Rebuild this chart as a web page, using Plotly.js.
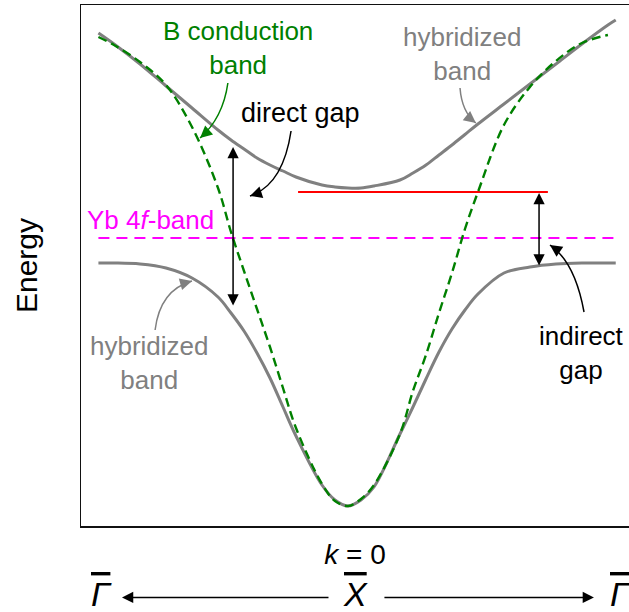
<!DOCTYPE html>
<html><head><meta charset="utf-8">
<script src="https://cdn.plot.ly/plotly-3.0.1.min.js"></script>
<style>html,body{margin:0;padding:0;background:#fff;overflow:hidden}#chart{width:629px;height:612px}</style>
</head><body><div id="chart"></div>
<script>
// momentum grid (k, arbitrary units, k = 0 at X-bar)
const kGrid = [-0.96, -0.9, -0.8, -0.7, -0.6, -0.5, -0.45, -0.4, -0.35, -0.3, -0.25, -0.2, -0.1, -0.05, 0, 0.05, 0.1, 0.2, 0.25, 0.3, 0.35, 0.4, 0.45, 0.5, 0.6, 0.7, 0.8, 0.9, 1.0, 1.03];
// upper hybridized band energy
const upperBandE = [2.05, 1.94, 1.74, 1.52, 1.30, 1.08, 0.98, 0.89, 0.80, 0.73, 0.67, 0.61, 0.53, 0.51, 0.50, 0.50, 0.52, 0.58, 0.65, 0.73, 0.83, 0.93, 1.035, 1.14, 1.34, 1.54, 1.74, 1.94, 2.13, 2.18];
// lower hybridized band energy
const lowerBandE = [-0.25, -0.25, -0.26, -0.30, -0.40, -0.59, -0.75, -0.93, -1.15, -1.40, -1.69, -1.98, -2.47, -2.62, -2.68, -2.62, -2.49, -1.96, -1.69, -1.41, -1.14, -0.91, -0.72, -0.56, -0.35, -0.29, -0.26, -0.25, -0.25, -0.25];
// unhybridized B conduction band
const conductionK = [-0.96, -0.9, -0.8, -0.7, -0.6, -0.5, -0.45, -0.4, -0.35, -0.3, -0.25, -0.2, -0.1, -0.05, 0, 0.05, 0.1, 0.2, 0.25, 0.3, 0.35, 0.4, 0.45, 0.5, 0.6, 0.7, 0.8, 0.9, 1.0];
const conductionE = [2.01, 1.93, 1.76, 1.53, 1.11, 0.50, 0.06, -0.33, -0.71, -1.09, -1.50, -1.90, -2.46, -2.63, -2.68, -2.61, -2.47, -1.96, -1.53, -1.17, -0.75, -0.35, 0.09, 0.46, 1.13, 1.51, 1.77, 1.95, 2.03];
// Yb 4f level
const fLevelK = [-0.96, 1.04];
const fLevelE = [0, 0];
// bottom of upper band (red reference line)
const refLevelK = [-0.192, 0.769];
const refLevelE = [0.46, 0.46];
// gaps
const directGapK = -0.442, directGapE = [0.91, -0.69];
const indirectGapK = 0.735, indirectGapE = [0.45, -0.29];

const FONT = 'Liberation Sans, Arial, sans-serif';
const GRAY = '#808080', GREEN = '#008000', MAGENTA = '#ff00ff';
const W = 629, H = 612, M = {l: 81, r: 0, t: 5, b: 86};
const xRange = [-1.027, 1.081], yRange = [-2.88, 2.33];
const pxPerK = (W - M.l - M.r) / (xRange[1] - xRange[0]);
const pxPerE = (H - M.t - M.b) / (yRange[1] - yRange[0]);

const traces = [
  {x: fLevelK, y: fLevelE, mode: 'lines', line: {color: MAGENTA, width: 2, dash: '11px,7px'}},
  {x: refLevelK, y: refLevelE, mode: 'lines', line: {color: '#ff0000', width: 2}},
  {x: kGrid, y: upperBandE, mode: 'lines', line: {color: GRAY, width: 3, shape: 'spline', smoothing: 1}},
  {x: kGrid, y: lowerBandE, mode: 'lines', line: {color: GRAY, width: 3, shape: 'spline', smoothing: 1}},
  {x: conductionK, y: conductionE, mode: 'lines', line: {color: GREEN, width: 2.4, dash: '9px,5px', shape: 'spline', smoothing: 1}}
];

// curved label arrows: tail, control, tip in (k, E)
const curvedArrows = [
  {tail: [-0.462, 1.55], ctrl: [-0.481, 1.20], tip: [-0.569, 1.00], color: GREEN},
  {tail: [-0.219, 1.07], ctrl: [-0.25, 0.53], tip: [-0.377, 0.42], color: '#000'},
  {tail: [0.431, 1.50], ctrl: [0.438, 1.26], tip: [0.492, 1.15], color: GRAY},
  {tail: [-0.742, -0.92], ctrl: [-0.723, -0.52], tip: [-0.60, -0.43], color: GRAY},
  {tail: [0.908, -0.74], ctrl: [0.873, -0.24], tip: [0.777, -0.07], color: '#000'}
];
const shapes = curvedArrows.map(a => ({
  type: 'path', xref: 'x', yref: 'y',
  path: `M ${a.tail[0]},${a.tail[1]} Q ${a.ctrl[0]},${a.ctrl[1]} ${a.tip[0]},${a.tip[1]}`,
  line: {color: a.color, width: 1.5}
}));
const annotations = curvedArrows.map(a => {
  const dx = (a.tip[0] - a.ctrl[0]) * pxPerK, dy = -(a.tip[1] - a.ctrl[1]) * pxPerE;
  const n = Math.hypot(dx, dy);
  return {x: a.tip[0], y: a.tip[1], xref: 'x', yref: 'y', text: '', showarrow: true,
    ax: -dx / n * 10, ay: -dy / n * 10, arrowhead: 2, arrowsize: 1.6, arrowwidth: 1.5, arrowcolor: a.color, standoff: 0};
});

function label(text, x, y, color, size) {
  return {x, y, xref: 'x', yref: 'y', text, showarrow: false, font: {family: FONT, size: size || 26, color}, xanchor: 'center', yanchor: 'middle'};
}
annotations.push(
  label('B conduction<br>band', -0.423, 1.90, GREEN),
  label('direct gap', -0.181, 1.25, '#000', 27),
  label('hybridized<br>band', 0.442, 1.84, GRAY),
  label('Yb 4<i>f</i>-band', -0.758, 0.18, MAGENTA),
  label('hybridized<br>band', -0.762, -1.25, GRAY),
  label('indirect<br>gap', 0.90, -1.15, '#000')
);
// gap double arrows
[[directGapK, directGapE], [indirectGapK, indirectGapE]].forEach(([k, e]) => {
  annotations.push({x: k, y: e[0], ax: k, ay: e[1], xref: 'x', yref: 'y', axref: 'x', ayref: 'y', text: '',
    showarrow: true, arrowside: 'end+start', arrowhead: 2, arrowsize: 1.5, arrowwidth: 1.5, arrowcolor: '#000', standoff: 0, startstandoff: 0});
});
// high-symmetry points below the axis
const bz = {size: 34, family: FONT, color: '#000'};
const ov = s => `<span style="text-decoration:overline"><i>${s}</i></span>`;
const symY = -0.1305, arrowY = -0.137;
const sym = (x, s) => ({x, y: symY, xref: 'paper', yref: 'paper', text: ov(s), showarrow: false, font: bz, xanchor: 'center', yanchor: 'middle'});
annotations.push(
  sym(0.0365, 'Γ'), sym(0.5, 'X'), sym(0.985, 'Γ'),
  {x: 0.0748, y: arrowY, xref: 'paper', yref: 'paper', text: '', showarrow: true, ax: 208, ay: 0, arrowhead: 2, arrowsize: 1.5, arrowwidth: 1.5, arrowcolor: '#000', standoff: 0},
  {x: 0.936, y: arrowY, xref: 'paper', yref: 'paper', text: '', showarrow: true, ax: -211, ay: 0, arrowhead: 2, arrowsize: 1.5, arrowwidth: 1.5, arrowcolor: '#000', standoff: 0}
);

const layout = {
  width: W, height: H, margin: M, showlegend: false,
  paper_bgcolor: '#fff', plot_bgcolor: '#fff',
  font: {family: FONT},
  xaxis: {range: xRange, showgrid: false, zeroline: false, showticklabels: false, ticks: '',
    showline: true, mirror: true, linecolor: '#111', linewidth: 1.5,
    title: {text: '<i>k</i> = 0', font: {size: 28, color: '#000'}, standoff: 18}},
  yaxis: {range: yRange, showgrid: false, zeroline: false, showticklabels: false, ticks: '',
    showline: true, mirror: false, linecolor: '#111', linewidth: 1.5,
    title: {text: 'Energy', font: {size: 30, color: '#000'}, standoff: 33}},
  shapes, annotations
};
Plotly.newPlot('chart', traces, layout, {staticPlot: true, displayModeBar: false});
</script></body></html>
